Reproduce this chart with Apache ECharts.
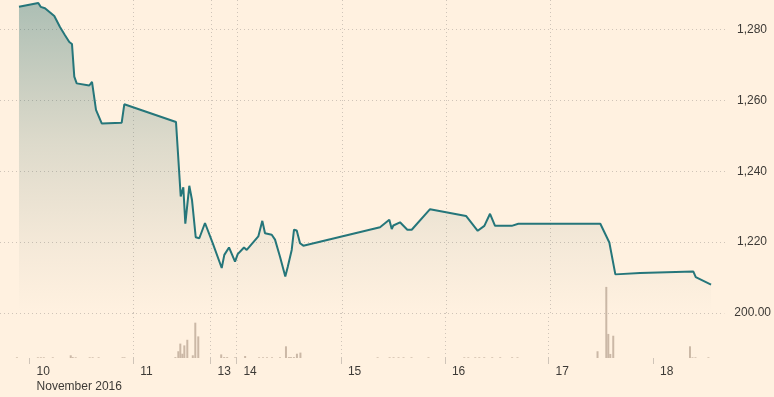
<!DOCTYPE html>
<html>
<head>
<meta charset="utf-8">
<script src="https://cdn.jsdelivr.net/npm/echarts@6/dist/echarts.min.js"></script>
<style>
html,body{margin:0;padding:0;background:#fff1e0;}
#c{width:774px;height:397px;}
</style>
</head>
<body>
<div id="c"></div>
<script>
// Trading-hour positions (hours since start of 10 Nov session, weekend compressed)
const priceHours = [-2.47,1.98,2.54,3.53,5.68,6.99,8.15,9.14,9.76,10.29,10.85,13.75,14.38,15.30,16.62,21.23,21.83,33.76,34.85,35.45,35.91,36.83,37.45,38.31,39.14,40.45,42.23,44.31,44.91,45.99,47.38,48.0,49.45,50.08,52.75,53.15,53.68,54.30,55.85,56.61,57.76,58.98,59.54,59.91,60.46,60.99,61.62,61.98,62.38,63.14,80.84,82.98,83.54,83.91,85.45,87.14,88.15,92.38,100.68,103.38,104.91,106.22,107.38,111.23,112.75,131.67,133.75,135.14,140.84,153.14,153.69,157.22];
const prices = [1286.4,1287.5,1286.4,1286.0,1283.8,1280.7,1278.4,1276.5,1275.9,1266.7,1264.8,1264.2,1265.2,1257.3,1253.5,1253.7,1258.9,1253.9,1232.9,1235.5,1225.2,1235.9,1231.9,1221.4,1221.1,1225.4,1219.7,1212.7,1216.4,1218.5,1214.5,1216.6,1218.5,1217.8,1221.6,1221.8,1226.0,1222.5,1222.1,1220.7,1215.9,1210.3,1213.0,1212.5,1217.8,1223.5,1223.3,1223.7,1219.7,1219.0,1224.2,1226.3,1223.7,1224.7,1225.6,1223.5,1223.5,1229.3,1227.4,1223.2,1224.6,1228.0,1224.6,1224.6,1225.2,1225.2,1219.9,1210.9,1211.3,1211.7,1210.1,1208.0];
const volHours = [-2.93,1.92,2.61,3.30,5.38,9.53,9.99,10.68,13.92,14.61,15.99,21.53,21.99,33.77,34.45,34.91,35.38,35.84,36.53,37.80,38.38,39.07,44.38,45.07,45.76,47.61,49.92,53.15,54.07,54.99,56.15,58.0,59.38,60.07,60.53,61.22,61.92,62.73,80.61,83.38,84.30,85.45,86.61,88.45,92.38,100.68,101.61,103.22,104.15,105.30,107.15,109.0,111.76,113.0,131.54,133.57,134.03,134.49,135.18,152.95,153.53,154.22,157.22];
const volumes = [3,3,3,3,3,12,4,3,3,3,3,3,3,4,30,64,19,56,81,12,157,96,16,4,4,3,9,3,3,3,3,3,52,4,4,4,19,24,3,3,3,3,3,3,3,3,3,3,3,3,3,3,3,3,30,316,107,18,99,52,3,3,3];
const dayTicks = [0,24,41.9,47.9,72.1,96.2,120.2,144.4];
const dayLabels = ['10\nNovember 2016','11','13','14','15','16','17','18'];
const priceTicks = [1220,1240,1260,1280];
const volTickLabel = '200.00';

const X_MIN = -6.85, X_MAX = 160.9;
const P_MIN = 1200, P_MAX = 1288.33;
const gridColor = '#cfc4b8';
const font = 'Liberation Sans, Arial, sans-serif';

const chart = echarts.init(document.getElementById('c'), null, {renderer:'canvas'});
const labelMap = {};
dayTicks.forEach((t,i)=>labelMap[t]=dayLabels[i]);

chart.setOption({
  backgroundColor:'#fff1e0',
  animation:false,
  grid:[
    {left:0, right:47, top:0, height:313},
    {left:0, right:47, top:313, height:45}
  ],
  xAxis:[
    {type:'value', gridIndex:0, min:X_MIN, max:X_MAX,
     axisLine:{show:false},
     axisTick:{show:false, customValues:dayTicks},
     axisLabel:{show:false, customValues:dayTicks},
     splitLine:{show:true, showMinLine:false, showMaxLine:false, lineStyle:{color:gridColor, type:[1,3], width:1}}},
    {type:'value', gridIndex:1, min:X_MIN, max:X_MAX,
     axisLine:{show:false},
     axisTick:{show:true, customValues:dayTicks, length:6, lineStyle:{color:gridColor}},
     axisLabel:{show:true, customValues:dayTicks, align:'left', padding:[0,0,0,7], margin:6,
       fontFamily:font, fontSize:12, color:'#3d3a36', lineHeight:15,
       formatter:(v)=>labelMap[v]!==undefined?labelMap[v]:''},
     splitLine:{show:true, showMinLine:false, showMaxLine:false, lineStyle:{color:gridColor, type:[1,3], width:1}}}
  ],
  yAxis:[
    {type:'value', gridIndex:0, position:'right', min:P_MIN, max:P_MAX, interval:20,
     axisLine:{show:false}, axisTick:{show:false},
     axisLabel:{margin:10, fontFamily:font, fontSize:12, color:'#3d3a36', showMaxLabel:false,
       formatter:(v)=>priceTicks.indexOf(v)>=0?v.toLocaleString('en-US'):''},
     splitLine:{show:true, showMinLine:false, showMaxLine:false, lineStyle:{color:gridColor, type:[1,3], width:1}}},
    {type:'value', gridIndex:1, position:'right', min:0, max:200, interval:200,
     axisLine:{show:false}, axisTick:{show:false},
     axisLabel:{margin:10, fontFamily:font, fontSize:12, color:'#3d3a36',
       formatter:(v)=>v===200?volTickLabel:''},
     splitLine:{show:true, showMinLine:false, lineStyle:{color:gridColor, type:[1,3], width:1}}}
  ],
  series:[
    {type:'line', xAxisIndex:0, yAxisIndex:0,
     data:priceHours.map((h,i)=>[h,prices[i]]),
     showSymbol:false, symbol:'none',
     lineStyle:{color:'#25767a', width:2},
     areaStyle:{color:new echarts.graphic.LinearGradient(0,0,0,1,[
       {offset:0,color:'rgba(40,110,110,0.55)'},
       {offset:0.45,color:'rgba(60,110,105,0.25)'},
       {offset:0.8,color:'rgba(80,110,100,0.08)'},
       {offset:1,color:'rgba(80,110,100,0)'}
     ])}},
    {type:'bar', xAxisIndex:1, yAxisIndex:1, clip:false,
     data:volHours.map((h,i)=>[h,volumes[i]]),
     barWidth:2, itemStyle:{color:'#cbb8a6'}}
  ]
});
</script>
</body>
</html>
